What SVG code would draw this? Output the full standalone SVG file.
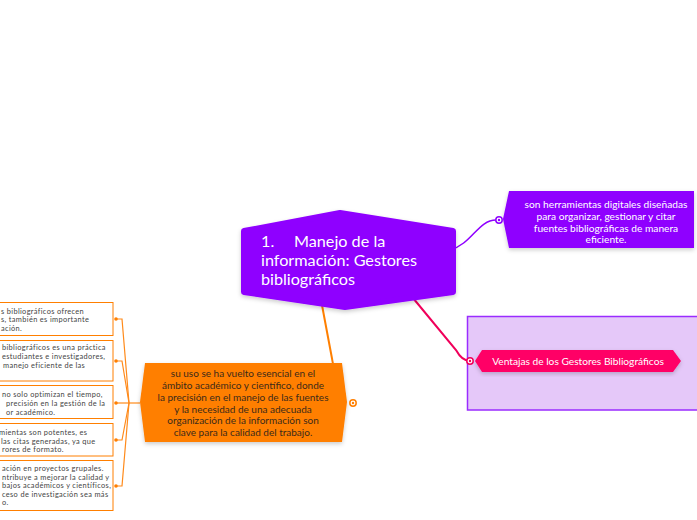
<svg xmlns="http://www.w3.org/2000/svg" width="697" height="520" viewBox="0 0 697 520">
<defs>
<style>
.t{font-family:Lato,"Noto Sans",sans-serif}
.wt{fill:#fff}
.lt{font-family:Lato,"Noto Sans",sans-serif;font-size:7.4px;letter-spacing:0.35px;fill:#444}
.box{fill:#fff;stroke:#ff7f00;stroke-width:1}
.oc{fill:none;stroke:#ff8a1a;stroke-width:1.2}
</style>
<filter id="sh" x="-10%" y="-10%" width="120%" height="130%">
<feDropShadow dx="0" dy="2" stdDeviation="2" flood-color="#000" flood-opacity="0.2"/>
</filter>
</defs>
<rect width="697" height="520" fill="#fff"/>

<g id="connectors">
<path d="M450,250 C472,244 478,220 496,220" fill="none" stroke="#8f00ff" stroke-width="1.5"/>
<path d="M413,298 L456,350 Q462,361 470,361" fill="none" stroke="#f0005a" stroke-width="2"/>
<line x1="322" y1="305" x2="333" y2="364" stroke="#ff7f00" stroke-width="2"/>
<path d="M681,361 H692 L697,342 M692,361 L697,380" fill="none" stroke="#f0005a" stroke-width="1.2"/>
<path class="oc" d="M140,403 H129"/>
<path class="oc" d="M116,319 H122 L129,403"/>
<path class="oc" d="M116,361 H122 L129,403"/>
<path class="oc" d="M116,403 H129"/>
<path class="oc" d="M116,440 H122 L129,403"/>
<path class="oc" d="M116,486 H122 L129,403"/>
</g>

<g id="container">
<rect x="467.5" y="316.5" width="235" height="93.5" fill="#e5c8f9" stroke="#9a2cff" stroke-width="1.5"/>
</g>

<g id="central">
<path d="M244,231 L340,213 L453,231 L453,292 L345,307 L244,292 Z" fill="#8f00ff" stroke="#8f00ff" stroke-width="6" stroke-linejoin="round" filter="url(#sh)"/>
<text class="t wt" font-size="16.2"><tspan x="261" y="247">1.</tspan><tspan x="294" y="247">Manejo de la</tspan><tspan x="261" y="266">información: Gestores</tspan><tspan x="261" y="285">bibliográficos</tspan></text>
</g>

<g id="definicion">
<path d="M503,219 L509,191 L694,191 L694,248 L509,248 Z" fill="#8f00ff" filter="url(#sh)"/>
<circle cx="499" cy="220" r="3.2" fill="#fff" stroke="#8f00ff" stroke-width="1.5"/>
<circle cx="499" cy="220" r="1.2" fill="#8f00ff"/>
<text class="t wt" font-size="10.2" text-anchor="middle"><tspan x="606" y="208">son herramientas digitales diseñadas</tspan><tspan x="606" y="220">para organizar, gestionar y citar</tspan><tspan x="606" y="231.5">fuentes bibliográficas de manera</tspan><tspan x="606" y="243">eficiente.</tspan></text>
</g>

<g id="ventajas">
<path d="M475,361 L482,350 L673,350 L681,361 L673,372 L482,372 Z" fill="#ff0066" filter="url(#sh)"/>
<circle cx="470" cy="361" r="3.2" fill="#fff" stroke="#f0005a" stroke-width="1.5"/>
<circle cx="470" cy="361" r="1.2" fill="#f0005a"/>
<text class="t wt" font-size="10.2" text-anchor="middle" x="578" y="364.5">Ventajas de los Gestores Bibliográficos</text>
</g>

<g id="uso">
<path d="M140,402 L145,363 L342,363 L347,402 L342,442 L145,442 Z" fill="#ff7f00" filter="url(#sh)"/>
<circle cx="353" cy="403" r="3.2" fill="#fff" stroke="#ff7f00" stroke-width="1.5"/>
<circle cx="353" cy="403" r="1.2" fill="#ff7f00"/>
<text class="t" font-size="10" fill="#3b2a1a" text-anchor="middle"><tspan x="243" y="377">su uso se ha vuelto esencial en el</tspan><tspan x="243" y="389">ámbito académico y científico, donde</tspan><tspan x="243" y="401">la precisión en el manejo de las fuentes</tspan><tspan x="243" y="412.5">y la necesidad de una adecuada</tspan><tspan x="243" y="424">organización de la información son</tspan><tspan x="243" y="436">clave para la calidad del trabajo.</tspan></text>
</g>

<g id="hijo1">
<rect class="box" x="-5" y="302.5" width="118" height="33"/>
<circle cx="116" cy="319" r="1.8" fill="#ff7f00"/>
<text class="lt"><tspan x="1" y="313.5">s bibliográficos ofrecen</tspan><tspan x="1" y="322">s, también es importante</tspan><tspan x="1" y="331">ación.</tspan></text>
</g>
<g id="hijo2">
<rect class="box" x="-5" y="340.5" width="118" height="40.5"/>
<circle cx="116" cy="361" r="1.8" fill="#ff7f00"/>
<text class="lt"><tspan x="2" y="350">bibliográficos es una práctica</tspan><tspan x="2" y="359">estudiantes e investigadores,</tspan><tspan x="3" y="368">manejo eficiente de las</tspan></text>
</g>
<g id="hijo3">
<rect class="box" x="-5" y="385.5" width="118" height="33"/>
<circle cx="116" cy="403" r="1.8" fill="#ff7f00"/>
<text class="lt"><tspan x="2" y="397">no solo optimizan el tiempo,</tspan><tspan x="6" y="406">precisión en la gestión de la</tspan><tspan x="6" y="415">or académico.</tspan></text>
</g>
<g id="hijo4">
<rect class="box" x="-5" y="423.5" width="118" height="32.5"/>
<circle cx="116" cy="440" r="1.8" fill="#ff7f00"/>
<text class="lt"><tspan x="-1" y="435">mientas son potentes, es</tspan><tspan x="1" y="443.5">las citas generadas, ya que</tspan><tspan x="2" y="452">rores de formato.</tspan></text>
</g>
<g id="hijo5">
<rect class="box" x="-5" y="460.5" width="118" height="50"/>
<circle cx="116" cy="486" r="1.8" fill="#ff7f00"/>
<text class="lt"><tspan x="2" y="471">ación en proyectos grupales.</tspan><tspan x="2" y="479.5">ntribuye a mejorar la calidad y</tspan><tspan x="2" y="488">bajos académicos y científicos,</tspan><tspan x="2" y="496.5">ceso de investigación sea más</tspan><tspan x="2" y="505">o.</tspan></text>
</g>
</svg>
